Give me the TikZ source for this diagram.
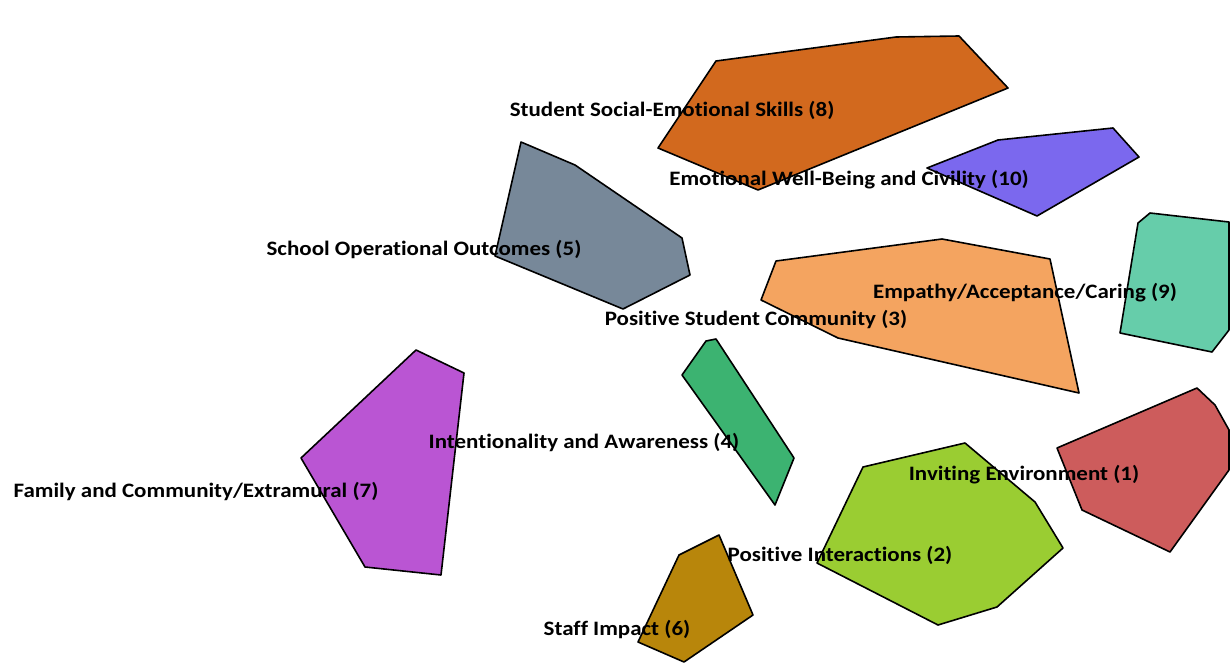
\documentclass[tikz,border=0pt]{standalone}
\usepackage{fontspec}
\setmainfont[FakeStretch=1.12,Ligatures=NoCommon]{Carlito}
\usepackage{tikz}
\definecolor{inviting}{RGB}{205,92,92}
\definecolor{interact}{RGB}{154,205,50}
\definecolor{community}{RGB}{244,164,96}
\definecolor{intention}{RGB}{60,179,113}
\definecolor{operational}{RGB}{119,136,153}
\definecolor{staff}{RGB}{184,134,11}
\definecolor{family}{RGB}{186,85,211}
\definecolor{socemo}{RGB}{210,105,30}
\definecolor{empathy}{RGB}{102,205,170}
\definecolor{wellbeing}{RGB}{123,104,238}
\tikzstyle{cluster}=[draw=black,line width=1.6,line join=round]
\tikzstyle{clabel}=[inner sep=0pt,font=\fontsize{20.5}{24}\selectfont\bfseries]

\begin{document}
\begin{tikzpicture}[x=1pt,y=-1pt]
          \useasboundingbox (0,0) rectangle (1230,663);
          \fill[white] (0,0) rectangle (1230,663);
          % cluster hulls
          \draw[cluster,fill=socemo] (716,61) -- (896,37) -- (959,36) -- (1008,88) -- (758,190) -- (658,148) -- cycle;
          \draw[cluster,fill=wellbeing] (927,168) -- (998,140) -- (1113,128) -- (1139,157) -- (1037,216) -- cycle;
          \draw[cluster,fill=operational] (521,142) -- (575,165) -- (682,238) -- (690,275) -- (623,309) -- (495,256) -- cycle;
          \draw[cluster,fill=community] (776,261) -- (942,239) -- (1050,259) -- (1079,393) -- (838,338) -- (761,300) -- cycle;
          \draw[cluster,fill=empathy] (1138,223) -- (1150,213) -- (1229,222) -- (1229,330) -- (1212,352) -- (1120,333) -- cycle;
          \draw[cluster,fill=intention] (706,341) -- (716,339) -- (794,458) -- (775,505) -- (682,375) -- cycle;
          \draw[cluster,fill=inviting] (1057,448) -- (1197,388) -- (1215,405) -- (1229,430) -- (1229,470) -- (1170,552) -- (1082,510) -- cycle;
          \draw[cluster,fill=interact] (863,467) -- (965,443) -- (1035,502) -- (1063,548) -- (997,607) -- (938,625) -- (817,563) -- cycle;
          \draw[cluster,fill=family] (416,350) -- (464,373) -- (441,575) -- (365,567) -- (301,458) -- cycle;
          \draw[cluster,fill=staff] (679,555) -- (719,535) -- (753,615) -- (684,662) -- (638,642) -- cycle;
          % cluster names
          \node[clabel] at (672,110) (n8) {Student Social-Emotional Skills (8)};
          \node[clabel] at (849,180) (n10) {Emotional Well-Being and Civility (10)};
          \node[clabel] at (424,250) (n5) {School Operational Outcomes (5)};
          \node[clabel] at (1025,293) (n9) {Empathy/Acceptance/Caring (9)};
          \node[clabel] at (756,320) (n3) {Positive Student Community (3)};
          \node[clabel] at (584,442) (n4) {Intentionality and Awareness (4)};
          \node[clabel] at (1024,475) (n1) {Inviting Environment (1)};
          \node[clabel] at (196,491) (n7) {Family and Community/Extramural (7)};
          \node[clabel] at (840,555) (n2) {Positive Interactions (2)};
          \node[clabel] at (617,629) (n6) {Staff Impact (6)};
        \end{tikzpicture}
\end{document}
